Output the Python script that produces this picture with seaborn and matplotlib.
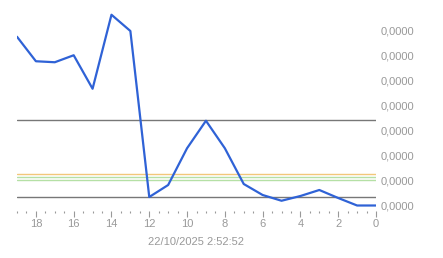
import matplotlib
matplotlib.use("Agg")
import matplotlib.pyplot as plt
import matplotlib.ticker as mticker
import seaborn as sns
import pandas as pd

# data (values are tiny; units of 1e-6)
hours_ago = [19, 18, 17, 16, 15, 14, 13, 12, 11, 10, 9, 8, 7, 6, 5, 4, 3, 2, 1, 0]
values = [6.75, 5.77, 5.73, 6.01, 4.67, 7.63, 6.98, 0.34, 0.82, 2.29, 3.39, 2.29,
          0.86, 0.42, 0.19, 0.38, 0.62, 0.30, 0.0, 0.0]
values = [v * 1e-6 for v in values]
ref_dark = [3.41e-6, 0.33e-6]
ref_orange = [1.25e-6]
ref_green = [1.13e-6, 1.02e-6]
x_ticks = [18, 16, 14, 12, 10, 8, 6, 4, 2, 0]
y_ticks = [k * 1e-6 for k in range(8)]
x_label = "22/10/2025 2:52:52"

sns.set_theme(style="white")
plt.rcParams['font.family'] = ['Liberation Sans', 'DejaVu Sans']

fig = plt.figure(figsize=(4.43, 2.58), dpi=100)
ax = fig.add_axes([17/443, 1 - 210.5/258, (376-17)/443, (210.5-5.5)/258])

df = pd.DataFrame({"x": hours_ago, "y": values})

for v in ref_dark:
    ax.axhline(v, color="#777777", lw=1.0, zorder=1)
for v in ref_orange:
    ax.axhline(v, color="#f2c77a", lw=1.0, zorder=1)
for v in ref_green:
    ax.axhline(v, color="#b5e0a5", lw=1.0, zorder=1)

sns.lineplot(data=df, x="x", y="y", ax=ax, color="#2f62d6", lw=1.6, zorder=3)

ax.set_xlim(19, 0)
ax.set_ylim(-0.2e-6, 8.0e-6)
for s in ax.spines.values():
    s.set_visible(False)

ax.set_xticks(x_ticks)
ax.xaxis.set_minor_locator(mticker.MultipleLocator(0.5))
ax.tick_params(axis="x", which="major", length=4, width=0.8, color="#999999",
               labelsize=8, labelcolor="#999999", pad=2, bottom=True)
ax.tick_params(axis="x", which="minor", length=1.2, width=0.8, color="#999999", bottom=True)

ax.yaxis.tick_right()
ax.set_yticks(y_ticks)
ax.yaxis.set_major_formatter(mticker.FuncFormatter(lambda v, p: f"{v:.4f}".replace(".", ",")))
ax.tick_params(axis="y", length=0, labelsize=8, labelcolor="#999999", pad=3)

ax.set_xlabel(x_label, fontsize=8, color="#999999", labelpad=6)
ax.set_ylabel("")
ax.grid(False)

fig.savefig("out.png", dpi=100)
